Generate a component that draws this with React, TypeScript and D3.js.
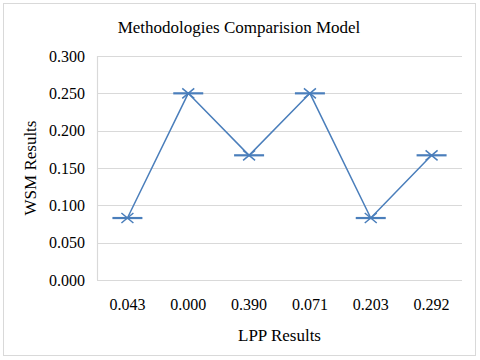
import { useEffect, useRef } from 'react';
import * as d3 from 'd3';

const categories = ['0.043', '0.000', '0.390', '0.071', '0.203', '0.292'];
const wsmValues = [0.083, 0.25, 0.167, 0.25, 0.083, 0.167];
const yTicks = [0, 0.05, 0.1, 0.15, 0.2, 0.25, 0.3];

const App = () => {
  const svgRef = useRef<SVGSVGElement>(null);

  useEffect(() => {
    const root = d3.select(svgRef.current);
    root.selectAll('*').remove();

    const W = 480;
    const H = 360;
    const margin = { top: 56, right: 18, bottom: 80, left: 97 };
    const width = W - margin.left - margin.right;
    const height = H - margin.top - margin.bottom;
    const font = '"Liberation Serif", "Times New Roman", serif';
    const blue = '#4a7ebb';

    root
      .attr('width', W)
      .attr('height', H)
      .attr('font-family', font)
      .style('position', 'absolute')
      .style('left', '0px')
      .style('top', '0px');

    // outer frame
    root
      .append('rect')
      .attr('x', 3.5)
      .attr('y', 3.5)
      .attr('width', 472)
      .attr('height', 352)
      .attr('fill', '#fff')
      .attr('stroke', '#d9d9d9');

    const svg = root.append('g').attr('transform', `translate(${margin.left},${margin.top})`);

    const x = d3.scaleBand().domain(categories).range([0, width]);
    const y = d3.scaleLinear().domain([0, 0.3]).range([height, 0]);

    // gridlines
    svg
      .selectAll('line.grid')
      .data(yTicks)
      .enter()
      .append('line')
      .attr('class', 'grid')
      .attr('x1', 0)
      .attr('x2', width)
      .attr('y1', d => Math.round(y(d)) + 0.5)
      .attr('y2', d => Math.round(y(d)) + 0.5)
      .attr('stroke', '#d9d9d9')
      .attr('stroke-width', 1.2);

    svg
      .append('line')
      .attr('x1', 0.5)
      .attr('x2', 0.5)
      .attr('y1', 0)
      .attr('y2', height)
      .attr('stroke', '#d9d9d9')
      .attr('stroke-width', 1.2);

    // y tick labels
    svg
      .selectAll('text.ytick')
      .data(yTicks)
      .enter()
      .append('text')
      .attr('class', 'ytick')
      .attr('x', -12)
      .attr('y', d => y(d))
      .attr('dy', '0.35em')
      .attr('text-anchor', 'end')
      .style('font-family', font)
      .style('font-size', '16px')
      .text(d => d3.format('.3f')(d));

    // x tick labels
    svg
      .selectAll('text.xtick')
      .data(categories)
      .enter()
      .append('text')
      .attr('class', 'xtick')
      .attr('x', d => x(d)! + x.bandwidth() / 2)
      .attr('y', height + 30)
      .attr('text-anchor', 'middle')
      .style('font-family', font)
      .style('font-size', '16px')
      .text(d => d);

    const cx = (i: number) => x(categories[i])! + x.bandwidth() / 2;

    // line
    const line = d3
      .line<number>()
      .x((d, i) => cx(i))
      .y(d => y(d));

    svg
      .append('path')
      .datum(wsmValues)
      .attr('d', line)
      .attr('fill', 'none')
      .attr('stroke', blue)
      .attr('stroke-width', 1.5);

    // star markers
    const markers = svg
      .selectAll('g.marker')
      .data(wsmValues)
      .enter()
      .append('g')
      .attr('class', 'marker')
      .attr('transform', (d, i) => `translate(${cx(i)},${y(d)})`);

    markers
      .append('path')
      .attr('d', 'M-15,0H15')
      .attr('stroke', blue)
      .attr('stroke-width', 2.2);

    markers
      .append('path')
      .attr('d', 'M-6,-5L6,5M-6,5L6,-5')
      .attr('stroke', blue)
      .attr('stroke-width', 1.5);

    // title
    root
      .append('text')
      .attr('x', 239)
      .attr('y', 33)
      .attr('text-anchor', 'middle')
      .style('font-family', font)
      .style('font-size', '17px')
      .text('Methodologies Comparision Model');

    // axis titles
    root
      .append('text')
      .attr('x', margin.left + width / 2)
      .attr('y', 341)
      .attr('text-anchor', 'middle')
      .style('font-family', font)
      .style('font-size', '17px')
      .text('LPP Results');

    root
      .append('text')
      .attr('transform', `translate(30,${margin.top + height / 2}) rotate(-90)`)
      .attr('dy', '0.35em')
      .attr('text-anchor', 'middle')
      .style('font-family', font)
      .style('font-size', '17px')
      .text('WSM Results');
  }, []);

  return <svg ref={svgRef}></svg>;
};

export default App;
